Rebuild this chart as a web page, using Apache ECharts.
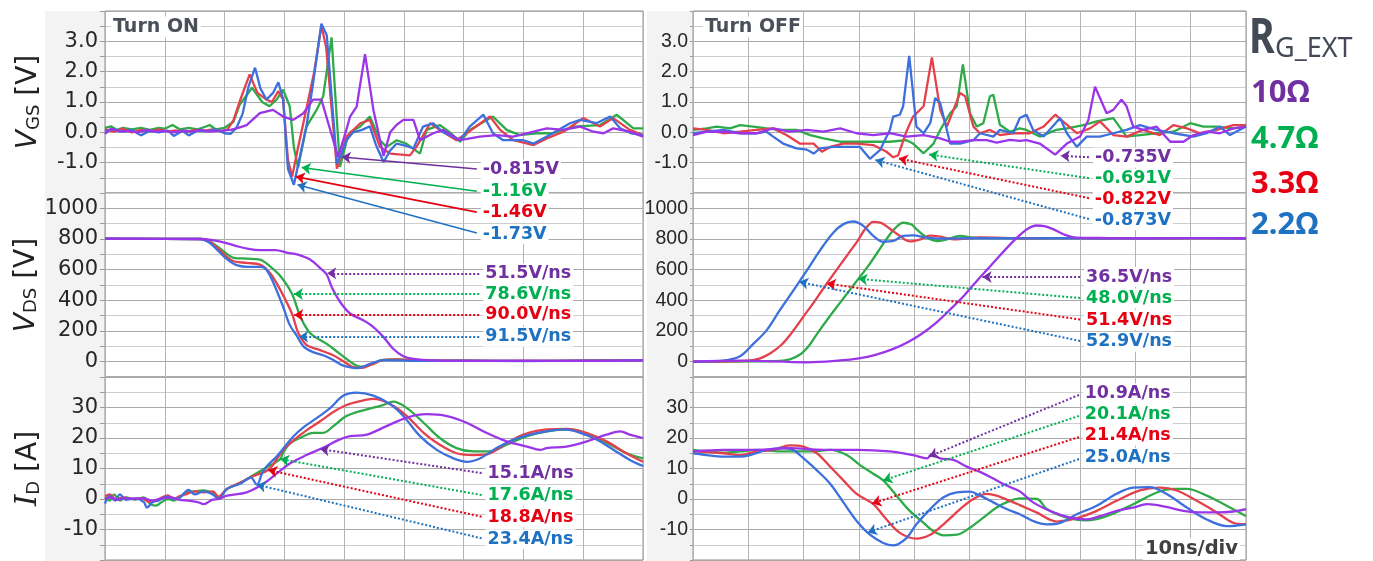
<!DOCTYPE html>
<html>
<head>
<meta charset="utf-8">
<script src="https://cdn.jsdelivr.net/npm/echarts@6/dist/echarts.min.js"></script>
<style>
  html, body { margin: 0; padding: 0; background: #fff; }
  #chart { width: 1373px; height: 561px; }
</style>
</head>
<body>
<div id="chart"></div>
<script>
// ---------------- measured waveforms: [time ns, value] ----------------
// gate resistors: 10 ohm, 4.7 ohm, 3.3 ohm, 2.2 ohm
const gateResistors = ['10Ω', '4.7Ω', '3.3Ω', '2.2Ω'];

// Turn ON, V_GS [V]
const onVgs10 = [[0,-0.05],[1,0.12],[2.5,0.03],[4,0.05],[5.5,0],[7,0.08],[8.5,0.02],[10,0.05],[11.5,0],[13,0.06],[14.5,0.02],[16,0.08],[17.5,0.02],[19,0.05],[21,0.08],[22.3,0.15],[23.7,0.24],[25.9,0.63],[28.1,0.74],[29.8,0.52],[31.5,0.41],[33.2,0.63],[34.8,1.08],[36.2,1.08],[37.5,0.2],[39.0,-0.815],[40.4,0.1],[41,0.52],[42.1,0.85],[43.5,2.58],[44.9,0.74],[46.6,-0.78],[47.7,0],[48.8,0.25],[49.9,0.41],[51.6,0.41],[52.7,-0.26],[54.9,-0.03],[56.6,0.08],[59.4,-0.26],[62.7,-0.14],[65.5,-0.09],[68.3,-0.14],[71.7,0.02],[73.9,0.13],[76.7,0.08],[79.5,0.19],[81.7,0.02],[83.4,-0.03],[85,0.13],[87.8,0.02],[90,-0.14]];
const onVgs47 = [[0,0.15],[1,0.2],[2,0.08],[3,0.15],[4.5,0.1],[6,0.15],[7.5,0.08],[9,0.15],[10,0.12],[11.3,0.24],[12.5,0.1],[14,0.15],[15.5,0.1],[17,0.2],[17.5,0.24],[18.5,0.1],[20,0.15],[21.5,0.35],[22.5,0.9],[24.6,1.47],[26.3,1.0],[27.5,0.86],[28.7,1.08],[29.8,1.41],[30.9,0.86],[31.6,-0.5],[32.3,-1.16],[33.7,0.19],[35.4,0.74],[36.5,1.19],[37.9,3.13],[39.3,-1.14],[40.4,-0.3],[41,0],[42.7,0.19],[44.3,0.52],[46,-0.26],[47.1,-0.48],[48.8,-0.26],[50.4,-0.37],[52.7,-0.7],[53.8,0.08],[56,0.24],[57.7,0],[59.4,-0.31],[61,0.08],[64.9,0.52],[67.2,0.08],[69.4,-0.09],[72.2,-0.03],[75,-0.03],[78.3,0.19],[82.8,0.24],[85.6,0.58],[88.4,0.13],[90,0.13]];
const onVgs33 = [[0,0.1],[1.5,0.02],[3,0.12],[4.5,0],[6,0.08],[7.5,0.02],[9,0.1],[10.5,0.03],[12,0.06],[13.5,0],[15,0.08],[16.5,0.05],[18,0.1],[19.5,0.02],[20.5,0.1],[21.5,0.4],[22.5,1.0],[24.2,1.91],[25.5,1.3],[27,1.08],[27.9,1.0],[29,1.36],[29.8,1.08],[30.6,-0.9],[31.3,-1.46],[32.3,-0.5],[33.5,0.6],[35,2.0],[36.2,3.52],[37,2.8],[38.8,-1.2],[40.4,-0.14],[42.7,0.3],[44.3,0.41],[46,-0.48],[47.7,-0.7],[51,-0.76],[52.1,-0.48],[54.4,0.3],[56,0.08],[58.8,-0.26],[60.5,-0.03],[64.4,0.52],[66.1,0.08],[68.3,-0.26],[71.7,-0.42],[73.9,-0.2],[76.7,0.02],[80,0.47],[82.8,0.19],[85,0.47],[87.8,0.08],[90,-0.09]];
const onVgs22 = [[0,0.05],[1.5,0.1],[3,0.02],[4.5,0.08],[6,-0.1],[7.5,0.05],[9,0],[10.5,0.06],[11.5,-0.12],[13,0.05],[14,-0.1],[15.5,0.06],[17,0.03],[18.5,0.1],[20,-0.03],[21,-0.05],[22,0.15],[23,0.6],[24,1.5],[25.1,2.13],[26,1.45],[27,1.08],[28.1,1.3],[29,1.65],[29.8,1.1],[30.6,-1.2],[31.6,-1.73],[32.6,-0.8],[33.7,0.2],[34.8,1.6],[36.2,3.58],[37.1,3.2],[38.8,-1.03],[39.6,-0.7],[40.4,-0.26],[41.5,0],[43,0.08],[44.3,0.2],[45.3,-0.4],[46.6,-0.98],[47.7,-0.6],[48.8,-0.37],[50.4,-0.45],[51.6,-0.53],[53.2,0.19],[54.9,0.3],[56.6,0],[59.4,-0.26],[61,0.19],[63.3,0.58],[64.9,-0.03],[66.6,-0.26],[70,-0.26],[71.7,-0.37],[73.9,-0.14],[77.8,0.3],[79.5,0.41],[82.2,0.3],[84.5,0.52],[86.2,0.13],[88,-0.03],[90,-0.09]];

// Turn ON, V_DS [V]
const onVds10 = [[0,802],[16,800],[18,792],[20,776],[22,754],[24,736],[26,728],[28.5,728],[30.6,710],[32.1,700],[34.3,666],[36,610],[37.1,567],[38,480],[39.3,391],[41,314],[43.2,270],[44.9,226],[46.6,160],[48.2,84],[49.9,35],[51.6,18],[55,8],[60,5],[70,6],[80,5],[90,8]];
const onVds47 = [[0,802],[16,800],[17.5,785],[19,745],[20.5,700],[21.5,677],[23.7,672],[25.9,666],[27.6,622],[29.3,560],[31.3,441],[32.6,300],[34,200],[35,165],[37.1,116],[39.3,51],[41.6,-15],[42.7,-33],[44.5,-20],[46.5,12],[49,15],[52,8],[60,6],[70,5],[80,7],[90,9]];
const onVds33 = [[0,802],[16,800],[17.5,780],[19,735],[20.5,680],[21.5,655],[23.7,644],[25.9,633],[27.6,578],[29.3,470],[31.3,311],[32.3,190],[33.7,110],[36,75],[38,45],[40,0],[41.5,-35],[43,-40],[44.5,-20],[46.5,10],[49,15],[52,7],[60,6],[70,5],[80,7],[90,9]];
const onVds22 = [[0,802],[16,800],[17.5,775],[19,720],[20.5,665],[22,630],[24,618],[26,618],[27,600],[28.2,512],[29.8,358],[30.9,240],[32.1,168],[33.2,100],[34.8,62],[36.5,42],[38.2,10],[39.9,-26],[41.5,-40],[42.4,-42],[44.3,-15],[46.6,10],[49,8],[52,5],[60,6],[70,4],[80,6],[90,8]];

// Turn ON, I_D [A]
const onId10 = [[0,0],[1,0.5],[2,-0.3],[3.5,0.3],[5,0],[6.5,0.2],[8,-0.5],[9.5,0.2],[11,0.5],[12.5,-0.3],[14,-0.5],[15.5,-1],[16.5,-1.7],[18,-0.2],[19,0],[20.4,1.1],[23.7,2.2],[26.5,5],[28.7,8.3],[31,11.7],[33.7,14.4],[36.5,16.8],[39.1,19.4],[41,20.6],[43.8,21.1],[47.1,23.9],[50.5,26.7],[53.8,27.8],[57.2,27.2],[60.5,25],[63.8,21.7],[67.2,18.9],[70.6,17.2],[72.8,16.1],[73.9,16.7],[77.2,17.2],[80.6,18.9],[83.9,21.1],[86.2,22.2],[87.8,21.1],[90,20]];
const onId47 = [[0,0.5],[0.8,-0.5],[1.5,1.5],[2.5,-0.5],[3.5,0.5],[5,-0.2],[6.5,0.5],[7.5,-1.5],[8.5,-2.2],[9.5,-1],[10.5,0],[11.5,-0.5],[12.5,0.5],[13.5,2],[15,2.5],[16.5,2.8],[18,2],[19,0.5],[20.4,3.3],[22.6,5.3],[24.8,7.8],[27,10.3],[29.3,13.1],[29.8,15.2],[31,18.3],[32.6,20],[34.9,21.7],[36.5,21.7],[38.2,23.9],[40.4,27.2],[43.8,29.4],[46.5,30.8],[48.2,31.9],[50.5,29.8],[53.3,25],[56,20],[58.8,16.7],[61.6,15.6],[64.4,15.6],[67.2,17.8],[70.6,20.6],[73.9,22.2],[77.8,22.8],[81.1,21.1],[84.5,17.8],[87.3,15],[90,13.3]];
const onId33 = [[0,0.8],[0.8,1.5],[1.8,0],[3,0.5],[4.5,0],[6,0.3],[7.5,-1],[8.5,-0.5],[9.5,0.5],[10.5,1.2],[11.5,0],[12.5,1],[13.5,1.5],[15,2.5],[16.5,2.2],[18,2.5],[19,0.8],[20.4,3.3],[22.6,5.3],[24.8,7.5],[27.3,9.5],[28.7,13],[30,16.5],[31.5,19.2],[33.7,22.5],[36,25.5],[38.2,28.5],[40.4,30.8],[42.5,32],[44.9,32.8],[47.7,31.1],[50.5,27.2],[53.3,21.7],[56,17.8],[58.8,15],[61.6,14.4],[63.8,14.6],[67.2,18.3],[70,21.1],[73.9,22.8],[77.2,23],[80.5,21.7],[83.9,18.9],[87.2,15],[90,12.2]];
const onId22 = [[0,-1.5],[0.8,1],[1.7,-0.5],[2.5,1.5],[3.5,-0.3],[5,0.2],[6.5,-1],[7,-2.8],[8,-1],[9,-0.5],[10.3,0.8],[11.5,0],[12.5,0.5],[14,3],[15,1.5],[16.5,2.5],[18,1.5],[19,0],[20.4,3.3],[22.6,5],[24.4,7],[25.4,4.7],[26.3,8.5],[27,10.6],[28.7,13.9],[29.8,16.5],[31.5,20.5],[33.2,23.5],[35.4,26.5],[37.6,29.7],[39.9,33.9],[42.1,34.9],[44.9,33.9],[47.7,31.1],[49.9,27.2],[52.7,20.6],[55.5,16.1],[58.3,13.3],[60.5,12.2],[62.7,13.3],[65.5,16.7],[68.3,19.4],[71.1,21.1],[73.9,22.2],[76.7,22.8],[79.5,21.7],[82.3,19.4],[85.1,16.1],[87.8,12.8],[90,10.8]];

// Turn OFF, V_GS [V]
const offVgs10 = [[0,-0.09],[2.5,0.02],[5.5,0.02],[8.5,-0.03],[11.5,-0.03],[14.5,0.13],[17.5,0.02],[20.6,0.08],[23.6,0.02],[26.6,0.13],[29.6,-0.03],[32.6,-0.09],[35.6,-0.03],[38.6,-0.14],[41.7,-0.09],[44.7,-0.2],[46.5,-0.31],[48.3,-0.31],[50.7,-0.26],[53.1,-0.26],[54.9,-0.34],[57.3,-0.25],[59.1,-0.28],[60.3,-0.26],[62.7,-0.37],[65.5,-0.735],[67.6,-0.37],[70,-0.14],[71.5,0.41],[72.7,1.5],[74.8,0.63],[76,0.74],[77.5,1.08],[78.4,0.86],[79.6,0.19],[81.4,0.08],[83.8,0.19],[86.3,-0.31],[88.7,-0.31],[90.5,-0.09],[92.9,0.02],[95.3,-0.03],[97.7,0.13],[100,0.19]];
const offVgs47 = [[0,0.08],[2.5,0.13],[4.3,0.19],[6.7,0.13],[8.5,0.24],[10.9,0.19],[13.3,0.13],[15.7,0.08],[18.7,0.08],[21.2,-0.09],[23.6,-0.2],[26.6,-0.31],[29.6,-0.31],[32.6,-0.31],[35.6,-0.31],[38.6,-0.26],[39.8,-0.37],[41.7,-0.691],[43.5,-0.37],[44.7,0.08],[46.5,0.63],[47.7,0.86],[48.8,2.24],[50.1,0.63],[51.3,0.19],[52.5,0.3],[53.7,1.19],[54.3,1.24],[55.5,0.25],[57.3,0.02],[59.1,0.13],[60.3,0.08],[62.7,-0.14],[65.7,0.08],[67.6,0.13],[70.6,0.24],[73,0.36],[76,0.47],[78.4,-0.14],[80.8,-0.09],[83.8,-0.03],[86.9,0.02],[89.9,0.3],[92.3,0.19],[94.7,0.19],[97.7,0.13],[100,0.19]];
const offVgs33 = [[0,0.13],[2.5,0.08],[5.5,-0.03],[8.5,0.02],[11.5,0.08],[14.5,0.13],[16.9,-0.09],[19.3,-0.37],[21.8,-0.37],[23.3,-0.64],[24.8,-0.48],[27.2,-0.37],[29.6,-0.37],[32.6,-0.42],[35,-0.64],[36.2,-0.822],[37.1,-0.76],[38.6,0.03],[39.8,0.52],[41.7,0.86],[43.2,2.47],[44.7,0.74],[45.9,0.19],[47.1,0.74],[48.3,1.3],[49.2,1.19],[50.7,0.19],[51.9,-0.03],[53.7,0.08],[55.5,-0.09],[57.9,-0.03],[60.9,-0.03],[63.4,0.19],[65.5,0.58],[66.9,0.36],[69.4,-0.03],[71.8,0.13],[73.6,0.36],[76,-0.09],[78.4,-0.14],[81.4,0.08],[84.4,-0.09],[86.9,0.24],[89.3,0.13],[91.7,-0.03],[94.7,0.08],[97.7,0.24],[100,0.24]];
const offVgs22 = [[0,-0.03],[2.5,0.02],[5.5,0.08],[8.5,-0.03],[11.5,-0.03],[13.3,0.02],[14.5,-0.14],[16.3,-0.37],[18.7,-0.53],[20.6,-0.57],[21.8,-0.7],[23,-0.53],[25.4,-0.48],[27.8,-0.48],[30.2,-0.48],[32,-0.873],[33.8,-0.59],[35.6,0.08],[36.2,0.52],[37.4,0.58],[38,0.86],[39.1,2.52],[40.4,0.19],[41.7,-0.03],[42.9,0.3],[43.8,1.13],[44.7,0.97],[46.5,-0.37],[48.3,-0.37],[50.7,-0.26],[51.9,-0.03],[54.3,-0.14],[55.5,0.08],[57.9,-0.03],[59.1,0.47],[60.3,0.58],[61.5,0.08],[63.4,-0.14],[66.4,0.47],[67.6,-0.03],[69.4,-0.48],[71.2,-0.14],[73.6,-0.14],[76,-0.03],[78.4,0.08],[80.8,0.24],[83.8,0.08],[86.9,-0.03],[90.5,-0.14],[92.9,-0.03],[95.3,0.19],[97.1,-0.09],[100,0.19]];

// Turn OFF, V_DS [V]
const offVds10 = [[0,0],[8.5,7],[20.6,-4],[26.6,8],[30,22],[33,45],[36,80],[39,130],[41.5,185],[44,255],[46.5,340],[49,430],[51.4,530],[53.3,605],[55.5,692],[57.5,770],[59.5,838],[61,876],[62.1,888],[63.5,884],[65,866],[67,831],[69.4,809],[75,806],[80,805],[90,806],[100,805]];
const offVds47 = [[0,0],[15,3],[17.5,15],[19.5,50],[21,105],[22.5,185],[24.5,285],[26.5,380],[28.2,460],[29.9,540],[31.8,630],[33.5,720],[35,800],[36.5,868],[38,906],[39.5,895],[40.4,864],[42.3,809],[44.1,787],[45.9,798],[48.3,820],[50.7,809],[55,806],[60,805],[70,806],[80,804],[90,806],[100,805]];
const offVds33 = [[0,0],[9.5,5],[12,20],[14,55],[16,110],[18.1,200],[20.1,300],[22.1,400],[24.2,510],[26.2,610],[28.2,710],[29.8,790],[31.2,868],[32.6,912],[34,905],[35.5,870],[37.4,820],[39.2,784],[41,796],[42.9,822],[44.7,815],[47.1,798],[49.5,804],[51.9,810],[60,805],[70,806],[80,804],[90,806],[100,805]];
const offVds22 = [[0,0],[5.5,7],[8.5,35],[10.9,116],[13.3,204],[15.7,336],[18.1,462],[20.6,595],[23,728],[25.4,842],[27.2,897],[29,914],[30.8,886],[32.6,820],[34.4,782],[36.2,787],[38,820],[39.8,824],[42.3,809],[44.7,802],[50,806],[60,804],[70,806],[80,804],[90,806],[100,805]];

// Turn OFF, I_D [A]
const offId10 = [[0,15.6],[5.5,16.1],[11.5,16.1],[17.5,16.7],[23.6,16.1],[29.6,16.1],[35.6,15.6],[39.8,14.4],[42.3,13.3],[43.2,14.8],[44.7,13.3],[47.1,12.8],[49.5,10.6],[51.9,8.9],[54.3,6.7],[56.7,4.4],[59.1,2.5],[61.5,-1.1],[65.2,-4.4],[68.2,-6.1],[71.2,-6.7],[73.6,-5.6],[76.6,-3.9],[79.6,-2.8],[82.1,-1.7],[85.6,-2.6],[88.7,-3.9],[91.7,-4.4],[94.7,-4.4],[97.7,-4.1],[100,-3.3]];
const offId47 = [[0,16.1],[5.5,15.2],[8.5,15.6],[11.5,16.1],[15.7,15.6],[18.7,15.6],[21.8,15.6],[24.8,16.1],[27.8,14.4],[30.2,11.1],[32.6,8.3],[34.4,6.1],[36.8,1.1],[39.2,-3.9],[41.7,-7.8],[43.5,-10.6],[45.3,-11.9],[47.7,-11.7],[50.1,-9.4],[52.5,-6.1],[54.9,-2.8],[57.3,-0.6],[59.1,0.2],[62.2,0],[64,-3.3],[67.6,-6.1],[71.2,-7],[74.8,-5.6],[79.6,-1.7],[84,2.2],[87,3.3],[89.3,3.3],[92.9,1.1],[96.5,-2.2],[100,-5.6]];
const offId33 = [[0,15.6],[5.5,15],[8.5,14.4],[11.5,15.6],[14.5,16.1],[17.5,17.6],[20,17.2],[22.4,15],[24.8,10.6],[27.2,6.1],[29.6,1.7],[32.6,-1.7],[35,-6.7],[37.4,-11.1],[40.4,-13],[42.9,-11.7],[45.3,-8.3],[48.3,-3.3],[50.7,0],[53.1,1.7],[54.9,1.1],[57.3,-0.6],[59.1,-2],[62.1,-4.4],[65.8,-7.4],[69.4,-6.3],[73,-3.9],[76.6,-0.6],[80.8,2.8],[84.4,3.7],[87.5,2.8],[91.1,-0.6],[94.7,-4.4],[97.7,-7.8],[100,-8.3]];
const offId22 = [[0,15],[2.5,14.4],[5.5,13.9],[8.5,13.9],[10.3,14.4],[13.3,16.1],[16.3,16.7],[18.1,16.1],[20,13.3],[22.4,9.4],[24.8,5],[27.2,-1.1],[29.6,-7.2],[32,-11.7],[34.4,-14.4],[36.2,-15.2],[38.6,-12.8],[40.4,-8.3],[42.9,-3.3],[45.3,0.6],[47.7,2.2],[50.1,2.4],[51.9,1.1],[54.3,-1.1],[56.7,-3.3],[59.1,-5],[61.5,-7.2],[64,-8.3],[66.4,-7.8],[69.4,-5],[73,-2.2],[76.6,1.7],[79.6,3.7],[82.6,3.9],[85.6,1.7],[89.3,-2.8],[92.9,-6.7],[96.5,-8.9],[100,-8.3]];

// slope annotations (order: 10, 4.7, 3.3, 2.2 ohm)
const onVdsSlope  = ['51.5V/ns', '78.6V/ns', '90.0V/ns', '91.5V/ns'];
const onIdSlope   = ['15.1A/ns', '17.6A/ns', '18.8A/ns', '23.4A/ns'];
const offVdsSlope = ['36.5V/ns', '48.0V/ns', '51.4V/ns', '52.9V/ns'];
const offIdSlope  = ['10.9A/ns', '20.1A/ns', '21.4A/ns', '25.0A/ns'];

// ---------------- styling ----------------
const LINE = ['#9b35e8', '#2eab48', '#e5414d', '#3d70dd'];   // trace colours
const NOTE = ['#7030a0', '#00b050', '#e60012', '#1f72c2'];   // annotation colours
const DRAW_ORDER = [1, 2, 3, 0];
const MAJ = '#a9a9a9', MIN = '#cdcdcd';

const SIDES = [{ x: 105, w: 538, tmax: 90 }, { x: 693, w: 553, tmax: 100 }];
const ROWS = [{ top: 11, h: 182 }, { top: 193, h: 184 }, { top: 377, h: 183 }];

const Y = [
  { min: -2, max: 4, step: 0.5, major: 1, lo: -1, hi: 3, fmt: v => v.toFixed(1), colors: [MAJ, MIN],
    name: '{v|V}{s|GS}{u| [V]}' },
  { min: -100, max: 1100, step: 100, major: 200, lo: 0, hi: 1000, fmt: v => String(v), colors: [MIN, MAJ],
    name: '{v|V}{s|DS}{u| [V]}' },
  { min: -20, max: 40, step: 5, major: 10, lo: -10, hi: 30, fmt: v => String(v), colors: [MAJ, MIN],
    name: '{i|I}{s|D}{u| [A]}' }
];

const panels = [
  { side: 0, row: 0, curves: [onVgs10, onVgs47, onVgs33, onVgs22], smooth: false },
  { side: 0, row: 1, curves: [onVds10, onVds47, onVds33, onVds22], smooth: 0.35 },
  { side: 0, row: 2, curves: [onId10, onId47, onId33, onId22], smooth: 0.35 },
  { side: 1, row: 0, curves: [offVgs10, offVgs47, offVgs33, offVgs22], smooth: false },
  { side: 1, row: 1, curves: [offVds10, offVds47, offVds33, offVds22], smooth: 0.35 },
  { side: 1, row: 2, curves: [offId10, offId47, offId33, offId22], smooth: 0.35 }
];

// ---------------- helpers on the sampled curves ----------------
function valueAt(c, t) {
  for (let i = 1; i < c.length; i++) {
    if (c[i][0] >= t) {
      const [t0, v0] = c[i - 1], [t1, v1] = c[i];
      return v0 + (v1 - v0) * (t - t0) / (t1 - t0);
    }
  }
  return c[c.length - 1][1];
}
function timeAt(c, v, from) {
  for (let i = 1; i < c.length; i++) {
    const [t0, v0] = c[i - 1], [t1, v1] = c[i];
    if (t1 < from || v0 === v1) continue;
    if ((v0 - v) * (v1 - v) <= 0) return t0 + (t1 - t0) * (v - v0) / (v1 - v0);
  }
  return from;
}
function lowest(c, a, b) {
  let best = null;
  c.forEach(p => { if (p[0] >= a && p[0] <= b && (!best || p[1] < best[1])) best = p; });
  return best;
}

// ---------------- annotation arrows ----------------
function noteItem(k, from, to, text, solid) {
  return {
    coords: [from, to],
    lineStyle: { color: NOTE[k], type: solid ? 'solid' : 'dotted', width: solid ? 1.6 : 2, opacity: 1 },
    label: { formatter: text, color: NOTE[k] }
  };
}
const notes = [[], [], [], [], [], []];

// turn-on gate undershoot minima
[[0, [37, 42], -1.21], [1, [30, 34], -1.94], [2, [30, 33], -2.63], [3, [30, 33], -3.32]].forEach(([k, w, lv]) => {
  const m = lowest(panels[0].curves[k], w[0], w[1]);
  notes[0].push(noteItem(k, [62.2, lv], [m[0] + 0.6, m[1]], m[1] + 'V', true));
});
// turn-on dV/dt, horizontal arrows
[576, 441, 305, 163].forEach((lv, k) => {
  const t = timeAt(panels[1].curves[k], lv, 16);
  notes[1].push(noteItem(k, [62.6, lv], [t + 0.3, lv], onVdsSlope[k]));
});
// turn-on dI/dt
[[36.0, 8.5], [29.3, 1.3], [27.3, -5.8], [25.4, -12.9]].forEach(([t, lv], k) => {
  notes[2].push(noteItem(k, [63.0, lv], [t, valueAt(panels[2].curves[k], t)], onIdSlope[k]));
});
// turn-off gate undershoot minima
[[0, [63, 68], -0.82], [1, [40, 43], -1.51], [2, [34, 38], -2.17], [3, [30, 34], -2.86]].forEach(([k, w, lv]) => {
  const m = lowest(panels[3].curves[k], w[0], w[1]);
  notes[3].push(noteItem(k, [71.6, lv], [m[0] + 1.0, m[1] - 0.04], m[1] + 'V'));
});
// turn-off dV/dt
{
  const lv = 552, t = timeAt(panels[4].curves[0], lv, 30);
  notes[4].push(noteItem(0, [70.0, lv], [t + 0.4, lv], offVdsSlope[0]));
  [[29.9, 415], [24.2, 275], [19.2, 135]].forEach(([tt, l], i) => {
    const k = i + 1;
    notes[4].push(noteItem(k, [70.0, l], [tt, valueAt(panels[4].curves[k], tt)], offVdsSlope[k]));
  });
}
// turn-off dI/dt
[[42.7, 34.1], [34.4, 27.2], [32.4, 20.3], [31.6, 13.1]].forEach(([t, lv], k) => {
  notes[5].push(noteItem(k, [69.8, lv], [t, valueAt(panels[5].curves[k], t)], offIdSlope[k]));
});

// ---------------- option ----------------
const nameRich = {
  v: { fontFamily: 'DejaVu Sans', fontSize: 28, fontStyle: 'italic', color: '#222', verticalAlign: 'bottom', lineHeight: 32 },
  i: { fontFamily: 'DejaVu Serif', fontSize: 29, fontStyle: 'italic', color: '#222', verticalAlign: 'bottom', lineHeight: 32 },
  s: { fontFamily: 'DejaVu Sans', fontSize: 18, color: '#222', verticalAlign: 'bottom', lineHeight: 22 },
  u: { fontFamily: 'DejaVu Sans', fontSize: 28, color: '#222', verticalAlign: 'bottom', lineHeight: 32 }
};

const grid = [], xAxis = [], yAxis = [], series = [];
panels.forEach((p, gi) => {
  const s = SIDES[p.side], r = ROWS[p.row], y = Y[p.row];
  grid.push({ left: s.x, width: s.w, top: r.top, height: r.h, show: true, backgroundColor: '#fff',
              borderColor: '#8e8e8e', borderWidth: 1, containLabel: false, outerBoundsMode: 'none' });
  xAxis.push({ type: 'value', gridIndex: gi, min: 0, max: s.tmax, interval: 10,
               axisLine: { show: false }, axisTick: { show: false }, axisLabel: { show: false },
               splitLine: { show: true, lineStyle: { color: '#b3b3b3', width: 1 } } });
  const isMajor = v => Math.abs(v / y.major - Math.round(v / y.major)) < 1e-6;
  yAxis.push({
    type: 'value', gridIndex: gi, min: y.min, max: y.max, interval: y.step,
    axisLine: { show: false },
    axisTick: { show: true, length: p.side ? 3 : 5, lineStyle: { color: '#9a9a9a' } },
    axisLabel: {
      margin: p.side ? 5 : 7, color: '#262626',
      fontFamily: p.side ? 'Liberation Sans' : 'DejaVu Sans', fontSize: p.side ? 19.5 : 21,
      formatter: v => (isMajor(v) && v >= y.lo && v <= y.hi) ? y.fmt(Math.round(v * 10) / 10) : ''
    },
    splitLine: { show: true, lineStyle: { color: y.colors, width: 1 } },
    name: p.side ? '' : y.name, nameLocation: 'middle', nameRotate: 90, nameGap: 62,
    nameTextStyle: { rich: nameRich }
  });
  DRAW_ORDER.forEach(k => {
    series.push({
      type: 'line', xAxisIndex: gi, yAxisIndex: gi, data: p.curves[k], showSymbol: false,
      smooth: p.smooth, lineStyle: { color: LINE[k], width: 2.3 }, itemStyle: { color: LINE[k] },
      z: 3, silent: true
    });
  });
  series.push({
    type: 'lines', coordinateSystem: 'cartesian2d', xAxisIndex: gi, yAxisIndex: gi, clip: false, z: 10,
    symbol: ['none', 'arrow'], symbolSize: 9, silent: true,
    lineStyle: { opacity: 1, curveness: 0 },
    label: { show: true, position: 'start', distance: 4, fontFamily: 'DejaVu Sans', fontWeight: 'bold',
             fontSize: 17.5, backgroundColor: '#fff', padding: [1, 2] },
    data: notes[gi]
  });
});

const txt = (x, y, text, opt, extra) => Object.assign({ type: 'text', x, y, z: 20, silent: true,
  style: Object.assign({ text, verticalAlign: 'middle' }, opt) }, extra || {});

const graphic = [
  { type: 'rect', z: -1, silent: true, shape: { x: 45, y: 11, width: 60, height: 550 }, style: { fill: '#f3f3f3' } },
  { type: 'rect', z: -1, silent: true, shape: { x: 647, y: 11, width: 46, height: 550 }, style: { fill: '#f3f3f3' } },
  txt(111, 27, 'Turn ON', { fontFamily: 'DejaVu Sans', fontWeight: 'bold', fontSize: 19, fill: '#4a4f59', backgroundColor: '#fff', padding: [1, 2] }),
  txt(703, 27, 'Turn OFF', { fontFamily: 'DejaVu Sans', fontWeight: 'bold', fontSize: 19, fill: '#4a4f59', backgroundColor: '#fff', padding: [1, 2] }),
  txt(1240, 549, '10ns/div', { align: 'right', fontFamily: 'DejaVu Sans', fontWeight: 'bold', fontSize: 19.5, fill: '#404040', backgroundColor: '#fff', padding: [1, 2] }),
  // R with the G_EXT subscript
  txt(1249, 39, 'R', { fontFamily: 'Noto Sans', fontWeight: 'bold', fontSize: 49, fill: '#434a56' }, { scaleX: 0.8 }),
  txt(1275, 49, 'G_EXT', { fontFamily: 'Noto Sans', fontSize: 27, fill: '#434a56' })
];
const legendY = [93, 139, 184, 225];
gateResistors.forEach((t, k) => {
  graphic.push(txt(1251, legendY[k], t, { fontFamily: 'Noto Sans', fontWeight: 'bold', fontSize: 31, fill: NOTE[k] }));
});

const chart = echarts.init(document.getElementById('chart'), null, { renderer: 'canvas' });
chart.setOption({ animation: false, backgroundColor: '#fff', grid, xAxis, yAxis, series, graphic });
</script>
</body>
</html>
